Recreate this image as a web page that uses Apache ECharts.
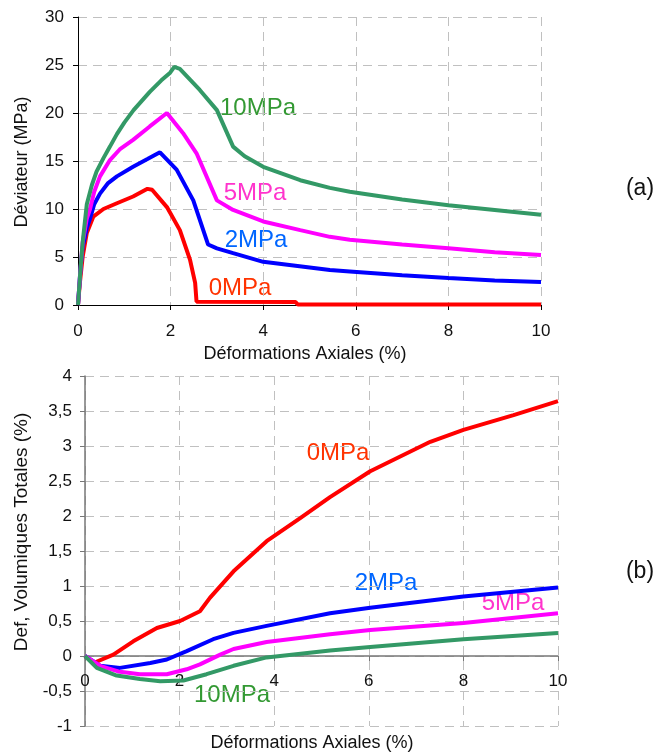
<!DOCTYPE html>
<html>
<head>
<meta charset="utf-8">
<script src="https://cdn.jsdelivr.net/npm/echarts@6/dist/echarts.min.js"></script>
<style>
html,body{margin:0;padding:0;background:#fff;}
#chart{width:659px;height:753px;}
</style>
</head>
<body>
<div id="chart"></div>
<script>
// ---- Data (a): Déviateur (MPa) vs Déformations Axiales (%)
const dev0MPa = [[0,0],[0.04,2.3],[0.1,5],[0.19,7.5],[0.33,9.2],[0.55,10],[0.84,10.6],[1.19,11.3],[1.5,12.1],[1.6,12.0],[1.92,10.2],[2.2,7.8],[2.42,4.7],[2.53,2.3],[2.56,0.35],[4.7,0.3],[4.75,0.05],[10,0.05]];
const dev2MPa = [[0,0],[0.05,3.5],[0.1,6],[0.19,8],[0.26,9],[0.35,10.5],[0.475,11.6],[0.65,12.7],[0.84,13.4],[1.19,14.4],[1.5,15.2],[1.77,15.9],[2.13,14.1],[2.49,10.9],[2.81,6.3],[3.0,5.9],[3.35,5.4],[4.0,4.5],[5.44,3.65],[5.87,3.5],[7,3.1],[8,2.8],[9,2.55],[10,2.4]];
const dev5MPa = [[0,0],[0.05,3.5],[0.1,6.5],[0.19,9],[0.26,10],[0.35,11.8],[0.475,13.4],[0.69,15.1],[0.9,16.2],[1.19,17.2],[1.55,18.6],[1.92,20.0],[2.27,17.9],[2.56,15.8],[3.0,10.9],[3.35,9.9],[4.0,8.7],[4.8,7.8],[5.44,7.1],[5.87,6.8],[7,6.3],[8,5.9],[9,5.5],[10,5.2]];
const dev10MPa = [[0,0],[0.05,3.5],[0.1,6.5],[0.19,10.5],[0.3,12.5],[0.4,13.9],[0.55,15.3],[0.69,16.5],[0.84,17.8],[1.0,19.0],[1.2,20.3],[1.55,22.2],[1.8,23.4],[1.99,24.2],[2.08,24.8],[2.2,24.6],[2.63,22.4],[3.0,20.3],[3.35,16.5],[3.6,15.5],[4.0,14.4],[4.8,13.0],[5.44,12.2],[5.87,11.8],[7,11.0],[8,10.4],[9,9.9],[10,9.4]];

// ---- Data (b): Def, Volumiques Totales (%) vs Déformations Axiales (%)
const vol0MPa = [[0,0],[0.18,-0.1],[0.6,0.02],[1.02,0.21],[1.52,0.40],[2.01,0.50],[2.43,0.64],[2.64,0.83],[3.14,1.21],[3.84,1.64],[4.55,1.97],[5.18,2.27],[6.03,2.64],[7.3,3.06],[8.0,3.23],[9.06,3.44],[10,3.64]];
const vol2MPa = [[0,0],[0.32,-0.14],[0.74,-0.17],[1.38,-0.1],[1.73,-0.05],[2.15,0.07],[2.71,0.24],[3.14,0.33],[3.84,0.43],[5.18,0.61],[6.03,0.69],[8,0.85],[10,0.98]];
const vol5MPa = [[0,0],[0.32,-0.14],[0.7,-0.22],[1.16,-0.26],[1.73,-0.26],[2.15,-0.19],[2.43,-0.12],[2.86,0.02],[3.14,0.1],[3.84,0.2],[5.18,0.31],[6.03,0.37],[8,0.47],[10,0.61]];
const vol10MPa = [[0,0],[0.25,-0.17],[0.67,-0.28],[1.16,-0.33],[1.59,-0.36],[2.08,-0.35],[2.57,-0.26],[3.14,-0.14],[3.84,-0.02],[5.18,0.08],[6.03,0.13],[8,0.24],[10,0.33]];

const seriesNames = ['0MPa','2MPa','5MPa','10MPa'];
const lineColors = ['#ff0000','#0000ff','#ff00ff','#339966'];
const labelColors = ['#ff3300','#0066ff','#ff33cc','#339933'];

const FONT = 'Liberation Sans, Arial, sans-serif';
const chart = echarts.init(document.getElementById('chart'), null, {renderer:'canvas'});

const dashed = {show:true, lineStyle:{color:'#c0c0c0', type:[9,6], width:1}};
const comma = v => String(v).replace('.', ',');

function mkLine(data, idx, axisIdx){
  return {type:'line', xAxisIndex:axisIdx, yAxisIndex:axisIdx, data:data, showSymbol:false,
    symbol:'none', lineStyle:{color:lineColors[idx], width:4}, itemStyle:{color:lineColors[idx]},
    smooth:false, animation:false, z: 3 + idx};
}

function txt(x, y, s, color, size, rot){
  return {type:'text', x:x, y:y, rotation: rot||0,
    style:{text:s, fill:color, font: size + 'px ' + FONT, textAlign:'center', textVerticalAlign:'middle'}};
}

const option = {
  backgroundColor:'#fff',
  animation:false,
  grid:[
    {left:78, top:17, width:463, height:288},
    {left:85, top:376, width:473, height:350}
  ],
  xAxis:[
    {type:'value', gridIndex:0, min:0, max:10, interval:2,
     axisLine:{show:true, onZero:false, lineStyle:{color:'#000', width:1}},
     axisTick:{show:true, length:5, lineStyle:{color:'#000'}},
     axisLabel:{color:'#111', fontSize:17, fontFamily:FONT, margin:18},
     splitLine:dashed},
    {type:'value', gridIndex:1, min:0, max:10, interval:2, position:'bottom', offset:-70,
     axisLine:{show:true, onZero:false, lineStyle:{color:'#777', width:1.5}},
     axisTick:{show:true, length:5, lineStyle:{color:'#777'}},
     axisLabel:{color:'#111', fontSize:17, fontFamily:FONT, margin:17},
     splitLine:dashed}
  ],
  yAxis:[
    {type:'value', gridIndex:0, min:0, max:30, interval:5,
     axisLine:{show:true, lineStyle:{color:'#000', width:1}},
     axisTick:{show:true, length:5, lineStyle:{color:'#000'}},
     axisLabel:{color:'#111', fontSize:17, fontFamily:FONT, margin:14},
     splitLine:dashed},
    {type:'value', gridIndex:1, min:-1, max:4, interval:0.5,
     axisLine:{show:true, onZero:false, lineStyle:{color:'#777', width:1.5}},
     axisTick:{show:true, length:5, lineStyle:{color:'#777'}},
     axisLabel:{color:'#111', fontSize:17, fontFamily:FONT, margin:13, formatter:comma},
     splitLine:dashed}
  ],
  series:[
    mkLine(dev0MPa,0,0), mkLine(dev2MPa,1,0), mkLine(dev5MPa,2,0), mkLine(dev10MPa,3,0),
    mkLine(vol0MPa,0,1), mkLine(vol2MPa,1,1), mkLine(vol5MPa,2,1), mkLine(vol10MPa,3,1)
  ],
  graphic:[
    txt(305, 354, 'Déformations Axiales (%)', '#111', 18),
    txt(22, 162, 'Déviateur (MPa)', '#111', 18, Math.PI/2),
    txt(312, 743, 'Déformations Axiales (%)', '#111', 18),
    txt(22, 532, 'Def, Volumiques Totales (%)', '#111', 19, Math.PI/2),
    txt(640, 189, '(a)', '#111', 23),
    txt(640, 572, '(b)', '#111', 23),
    txt(258, 108, seriesNames[3], labelColors[3], 24),
    txt(255, 193, seriesNames[2], labelColors[2], 24),
    txt(256, 240, seriesNames[1], labelColors[1], 24),
    txt(240, 288, seriesNames[0], labelColors[0], 24),
    txt(338, 453, seriesNames[0], labelColors[0], 24),
    txt(386, 583, seriesNames[1], labelColors[1], 24),
    txt(513, 603, seriesNames[2], labelColors[2], 24),
    txt(232, 695, seriesNames[3], labelColors[3], 24)
  ]
};
chart.setOption(option);
</script>
</body>
</html>
